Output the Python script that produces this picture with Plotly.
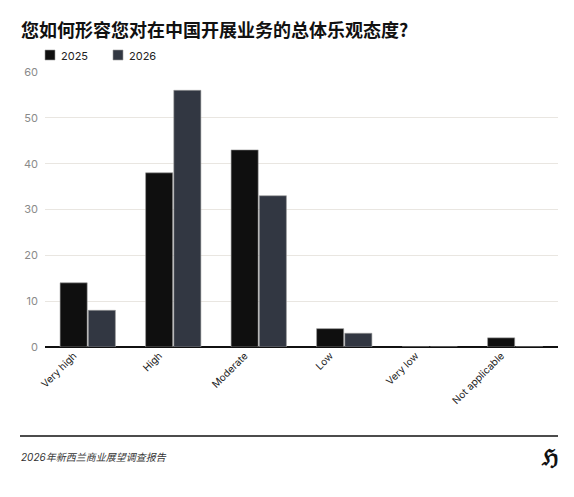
import plotly.graph_objects as go

categories = ["Very high", "High", "Moderate", "Low", "Very low", "Not applicable"]
values_2025 = [14, 38, 43, 4, 0, 2]
values_2026 = [8, 56, 33, 3, 0, 0]
series_names = ["2025", "2026"]
series_colors = ["#0f0f0f", "#323742"]
title_text = "您如何形容您对在中国开展业务的总体乐观态度?"
source_text = "2026年新西兰商业展望调查报告"

W, H = 574, 497
L, R, T, B = 45, 16, 72, 150
pw, ph = W - L - R, H - T - B

def px(x):
    return (x - L) / pw

def py(y):
    return (H - B - y) / ph

fig = go.Figure()
for name, vals, col in zip(series_names, [values_2025, values_2026], series_colors):
    fig.add_trace(go.Bar(x=categories, y=vals, name=name, showlegend=False,
                         marker=dict(color=col, line=dict(color="#9a9a9a", width=0.6))))

shapes = [
    dict(type="line", xref="paper", yref="paper", x0=px(20), x1=px(558),
         y0=py(436), y1=py(436), line=dict(color="#111", width=1.5)),
]
annotations = [
    dict(text="<b>" + title_text + "</b>", xref="paper", yref="paper",
         x=px(19), y=py(29), xanchor="left", yanchor="middle", showarrow=False,
         font=dict(size=18, color="#111", family="'Noto Sans CJK SC', sans-serif")),
    dict(text="<i>" + source_text + "</i>", xref="paper", yref="paper",
         x=px(19), y=py(457), xanchor="left", yanchor="middle", showarrow=False,
         font=dict(size=10, color="#333", family="Inter, 'Noto Sans CJK SC', sans-serif")),
    dict(text="<b>ℌ</b>", xref="paper", yref="paper",
         x=px(560), y=py(457), xanchor="right", yanchor="middle", showarrow=False,
         font=dict(size=22, color="#111", family="'DejaVu Serif', serif")),
]
# custom legend
for i, (name, col) in enumerate(zip(series_names, series_colors)):
    x0 = 45 + i * 68
    shapes.append(dict(type="rect", xref="paper", yref="paper",
                       x0=px(x0), x1=px(x0 + 10), y0=py(60), y1=py(50),
                       fillcolor=col, line=dict(color="#9a9a9a", width=0.6)))
    annotations.append(dict(text=name, xref="paper", yref="paper",
                            x=px(x0 + 14), y=py(56), xanchor="left", yanchor="middle",
                            showarrow=False, font=dict(size=11, color="#222")))

fig.update_layout(
    width=W, height=H,
    margin=dict(l=L, r=R, t=T, b=B),
    paper_bgcolor="white", plot_bgcolor="white",
    barmode="group", bargap=0.34, bargroupgap=0.04,
    font=dict(family="Inter, Roboto, 'Noto Sans CJK SC', sans-serif", size=11, color="#222"),
    showlegend=False,
    xaxis=dict(tickangle=-45, showgrid=False, showline=False, ticks="",
               tickfont=dict(size=10, color="#222"), ticklabelshift=-14,
               fixedrange=True),
    yaxis=dict(range=[0, 60], tickvals=[0, 10, 20, 30, 40, 50, 60], showgrid=True,
               gridcolor="#e9e6e1", gridwidth=1, zeroline=True, zerolinecolor="#111",
               zerolinewidth=1.5, ticks="", tickfont=dict(size=11, color="#8a8a8a"),
               ticklabelstandoff=6, fixedrange=True),
    shapes=shapes,
    annotations=annotations,
)

fig.write_html("out.html", config={"displayModeBar": False},
               post_script="document.body.style.margin='0';")
